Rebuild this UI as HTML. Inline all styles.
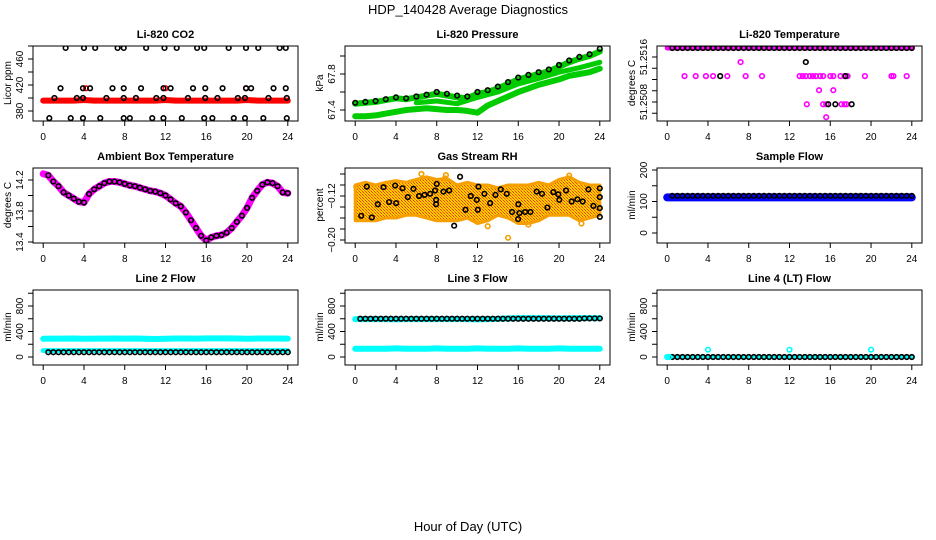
<!DOCTYPE html>
<html><head><meta charset="utf-8">
<style>
html,body{margin:0;padding:0;background:#fff;}
svg{display:block;font-family:"Liberation Sans",sans-serif;}
.ttl{font-size:11px;font-weight:bold;text-anchor:middle;}
.tk{font-size:10px;text-anchor:middle;}
</style></head>
<body>
<svg id="chart" width="936" height="540" viewBox="0 0 936 540">
<rect width="936" height="540" fill="#fff"/>
<text x="468" y="14" font-size="13" text-anchor="middle">HDP_140428  Average Diagnostics</text>
<text x="468" y="531" font-size="13" text-anchor="middle">Hour of Day (UTC)</text>
</svg>
<script>
// ---------- data ----------
const hours = [0,1,2,3,4,5,6,7,8,9,10,11,12,13,14,15,16,17,18,19,20,21,22,23,24];
const halfHours = [0.5,1,1.5,2,2.5,3,3.5,4,4.5,5,5.5,6,6.5,7,7.5,8,8.5,9,9.5,10,10.5,11,11.5,12,12.5,13,13.5,14,14.5,15,15.5,16,16.5,17,17.5,18,18.5,19,19.5,20,20.5,21,21.5,22,22.5,23,23.5,24];
const xTicks = [0,4,8,12,16,20,24];

// CO2
const co2RedVals = [396,396,396,396,397,396,396,396,396,396,396,396,397,396,396,396,396,396,396,396,397,396,396,396,396];
const co2TopX = [2.2,4,5.1,7.3,7.9,10.1,11.9,13.1,15.1,15.8,18.2,19.9,21.1,23.2,23.8];
const co2TopV = [477,477,477,477,477,477,477,477,477,477,477,477,477,477,477];
const co2MidX = [1.7,3.9,4.6,6.8,7.9,9.6,11.8,12.5,14.7,15.9,17.6,19.9,20.4,22.6,23.8];
const co2MidV = [415,415,415,415,415,415,415,415,415,415,415,415,415,415,415];
const co2LowX = [1.1,3.3,3.9,6.2,7.9,9.1,11.1,11.8,14.2,15.9,17.1,19.1,19.8,22.1,23.9];
const co2LowV = [400,400,400,400,400,400,400,400,400,400,400,400,400,400,400];
const co2BotX = [0.6,2.7,3.9,5.6,7.9,8.5,10.7,11.8,13.6,15.8,16.6,18.7,19.8,21.6,23.9];
const co2BotV = [369,369,369,369,369,369,369,369,369,369,369,369,369,369,369];
const co2RedPtX = [4.2,12,19.9];
const co2RedPtV = [415,415,415];

// Pressure
const presBlack = [67.48,67.49,67.5,67.52,67.54,67.53,67.55,67.57,67.6,67.58,67.56,67.55,67.6,67.62,67.66,67.71,67.76,67.79,67.82,67.85,67.9,67.95,67.99,68.02,68.08];
const presGreenHi = [67.47,67.48,67.49,67.51,67.53,67.52,67.54,67.56,67.58,67.56,67.54,67.53,67.58,67.6,67.64,67.69,67.74,67.77,67.8,67.83,67.88,67.93,67.97,68.0,68.05];
const presGreenLo = [67.33,67.33,67.34,67.36,67.38,67.4,67.41,67.42,67.41,67.4,67.4,67.39,67.37,67.45,67.5,67.55,67.6,67.64,67.68,67.71,67.74,67.78,67.8,67.82,67.86];
const presGreenMidX = [6,8,10,12,14,16,18,20,22,24];
const presGreenMid = [67.48,67.5,67.47,67.54,67.6,67.69,67.75,67.82,67.87,67.93];

// Li-820 temperature
const tTopX = hours;
const tTop = [51.25176,51.25176,51.25176,51.25176,51.25176,51.25176,51.25176,51.25176,51.25176,51.25176,51.25176,51.25176,51.25176,51.25176,51.25176,51.25176,51.25176,51.25176,51.25176,51.25176,51.25176,51.25176,51.25176,51.25176,51.25176];
const tMagX = [1.7,2.8,3.8,4.5,5.9,7.7,9.3,13.0,13.3,13.6,14.0,14.3,14.6,15.0,15.3,16.0,16.3,17.0,17.4,17.7,19.4,22.0,22.2,23.5,7.2,14.9,16.3,13.7,15.3,15.6,17.1,17.4,17.6,15.6];
const tMagV = [51.25126,51.25126,51.25126,51.25126,51.25126,51.25126,51.25126,51.25126,51.25126,51.25126,51.25126,51.25126,51.25126,51.25126,51.25126,51.25126,51.25126,51.25126,51.25126,51.25126,51.25126,51.25126,51.25126,51.25126,51.25151,51.25101,51.25101,51.25076,51.25076,51.25076,51.25076,51.25076,51.25076,51.25053];
const tBlkX = [5.2,17.5,13.6,15.8,16.5,18.1];
const tBlkV = [51.25126,51.25126,51.25151,51.25076,51.25076,51.25076];

// Ambient
const ambHalf = [14.28,14.26,14.18,14.12,14.04,14.0,13.96,13.92,13.91,14.02,14.08,14.12,14.16,14.18,14.18,14.17,14.15,14.13,14.12,14.10,14.08,14.06,14.05,14.03,14.0,13.95,13.9,13.86,13.78,13.68,13.58,13.48,13.42,13.46,13.48,13.49,13.52,13.58,13.66,13.74,13.84,13.97,14.06,14.14,14.17,14.16,14.12,14.04,14.03];
const ambX = [0,0.5,1,1.5,2,2.5,3,3.5,4,4.5,5,5.5,6,6.5,7,7.5,8,8.5,9,9.5,10,10.5,11,11.5,12,12.5,13,13.5,14,14.5,15,15.5,16,16.5,17,17.5,18,18.5,19,19.5,20,20.5,21,21.5,22,22.5,23,23.5,24];

// Gas stream RH
const rhUp = [-0.1,-0.095,-0.1,-0.095,-0.092,-0.095,-0.09,-0.085,-0.09,-0.088,-0.1,-0.095,-0.1,-0.1,-0.105,-0.1,-0.1,-0.1,-0.095,-0.1,-0.09,-0.085,-0.095,-0.1,-0.1];
const rhLo = [-0.165,-0.165,-0.165,-0.16,-0.16,-0.155,-0.155,-0.16,-0.165,-0.165,-0.165,-0.16,-0.17,-0.165,-0.155,-0.16,-0.17,-0.17,-0.165,-0.155,-0.155,-0.155,-0.165,-0.16,-0.155];
const rhOutX = [6.5,8.9,8.8,13,15,17,21,22.2,0.1];
const rhOutV = [-0.08,-0.082,-0.088,-0.175,-0.196,-0.172,-0.083,-0.17,-0.103];
const rhX = [0.59,1.14,1.63,2.22,2.78,3.33,3.92,4.02,4.64,5.16,5.72,6.27,6.80,7.35,7.84,7.94,7.94,8.0,8.66,9.22,9.71,10.29,10.82,11.34,11.93,12.03,12.09,12.68,13.24,13.76,14.28,14.87,15.39,16.01,15.98,16.11,16.67,17.19,17.81,18.33,18.86,19.44,19.93,20.03,20.69,21.24,21.80,22.32,22.88,23.37,24,24,24,24];
const rhV = [-0.156,-0.103,-0.159,-0.135,-0.104,-0.131,-0.101,-0.133,-0.106,-0.122,-0.107,-0.120,-0.118,-0.116,-0.110,-0.127,-0.135,-0.098,-0.112,-0.110,-0.174,-0.085,-0.145,-0.120,-0.127,-0.145,-0.103,-0.116,-0.133,-0.118,-0.108,-0.116,-0.149,-0.135,-0.162,-0.151,-0.149,-0.149,-0.112,-0.116,-0.141,-0.113,-0.117,-0.127,-0.110,-0.130,-0.126,-0.130,-0.108,-0.138,-0.106,-0.122,-0.142,-0.158];

// Flows
const sampBlue = [113,113,113,113,113,113,113,113,113,113,113,113,113,113,113,113,113,113,113,113,113,113,113,113,113];
const sampBlack = [118,118,118,118,118,118,118,118,118,118,118,118,118,118,118,118,118,118,118,118,118,118,118,118,118,118,118,118,118,118,118,118,118,118,118,118,118,118,118,118,118,118,118,118,118,118,118,118];
const l2CyanHi = [285,288,288,290,285,288,288,290,288,290,285,282,285,290,290,288,292,292,292,290,285,290,290,290,288];
const l2CyanLo = [100,100,100,100,100,100,100,100,100,100,100,100,100,100,100,100,100,100,100,100,100,100,100,100,100];
const l2Black = [75,75,75,75,75,75,75,75,75,75,75,75,75,75,75,75,75,75,75,75,75,75,75,75,75,75,75,75,75,75,75,75,75,75,75,75,75,75,75,75,75,75,75,75,75,75,75,75];
const l3CyanHi = [595,595,595,595,590,595,595,595,595,595,595,595,590,595,598,605,610,610,610,610,605,610,610,610,610];
const l3CyanLo = [130,130,130,130,135,130,130,130,135,130,130,130,135,130,130,130,135,130,130,130,135,130,130,130,130];
const l3Black = [600,600,600,600,600,600,600,600,600,600,600,600,600,600,600,600,600,600,600,600,600,600,600,600,600,600,600,600,600,600,600,600,600,600,600,600,600,600,600,600,600,600,600,600,605,605,605,605];
const l4Black = [0,0,0,0,0,0,0,0,0,0,0,0,0,0,0,0,0,0,0,0,0,0,0,0,0,0,0,0,0,0,0,0,0,0,0,0,0,0,0,0,0,0,0,0,0,0,0,0];
const l4CyanX = [0,0.2,4,12,20];
const l4CyanV = [0,0,115,115,115];

// ---------- drawing ----------
const svg = document.getElementById('chart');
const NS = 'http://www.w3.org/2000/svg';
function mk(tag, attrs, parent){
  const e = document.createElementNS(NS, tag);
  for (const k in attrs) e.setAttribute(k, attrs[k]);
  (parent||svg).appendChild(e);
  return e;
}
const defs = mk('defs', {});
const pat = mk('pattern', {id:'rhpat', width:'3', height:'3', patternUnits:'userSpaceOnUse'}, defs);
mk('rect', {x:0,y:0,width:3,height:3,fill:'#ffcc00'}, pat);
mk('rect', {x:0,y:0,width:1,height:1,fill:'#f04000'}, pat);
mk('rect', {x:1,y:1,width:1,height:1,fill:'#f08000'}, pat);
mk('rect', {x:2,y:2,width:1,height:1,fill:'#f04000'}, pat);

const colL = [33,345,657];
const W = 265;
function makePanel(col, opt){
  const left = colL[col], top = opt.top, bottom = top + 75;
  const g = mk('g', {});
  
  
  const x = t => left + 10.2 + t * (244.6 / 24);
  const y = v => opt.y0px + (v - opt.y0) * (opt.y1px - opt.y0px) / (opt.y1 - opt.y0);
  const title = mk('text', {x:left + W/2, y: top - 8, class:'ttl'}, g);
  title.textContent = opt.title;
  
  
  const xa = mk('g', {}, g);
  
  
  xTicks.forEach(t => {
    mk('line', {x1:x(t), x2:x(t), y1:bottom, y2:bottom+5, stroke:'#000'}, xa);
    const tx = mk('text', {x:x(t), y:bottom+19, class:'tk'}, xa);
    tx.textContent = t;
  });
  const ya = mk('g', {}, g);
  
  
  opt.ticks.forEach(v => {
    mk('line', {x1:left-5, x2:left, y1:y(v), y2:y(v), stroke:'#000'}, ya);
  });
  opt.labels.forEach(v => {
    const tx = mk('text', {x:0, y:0, class:'tk', transform:`translate(${left-10},${y(v)}) rotate(-90)`}, ya);
    tx.textContent = opt.fmt ? opt.fmt(v) : v;
  });
  const yt = mk('text', {x:0, y:0, class:'tk', transform:`translate(${left-22},${top+37}) rotate(-90)`}, ya);
  yt.textContent = opt.ylab;
  
  
  const clipId = 'clip' + opt.name;
  const cp = mk('clipPath', {id:clipId}, defs);
  mk('rect', {x:left, y:top, width:W, height:75}, cp);
  const plot = mk('g', {'clip-path':`url(#${clipId})`}, g);
  const box = mk('rect', {x:left, y:top, width:W, height:75, fill:'none', stroke:'#000'}, g);
  
  
  return {x, y, plot};
}
function band(p, xs, vs, color, w, name){
  const pts = xs.map((t,i) => p.x(t).toFixed(1) + ',' + p.y(vs[i]).toFixed(1)).join(' ');
  const e = mk('polyline', {points:pts, fill:'none', stroke:color, 'stroke-width':w, 'stroke-linejoin':'round', 'stroke-linecap':'round'}, p.plot);
  
  
}
function points(p, xs, vs, color, name){
  const g = mk('g', {}, p.plot);
  
  
  xs.forEach((t,i) => {
    const c = mk('circle', {cx:p.x(t), cy:p.y(vs[i]), r:2.3, fill:'none', stroke:color, 'stroke-width':1.6}, g);
    
    
  });
}
function area(p, xs, up, lo, name){
  let d = xs.map((t,i)=>(i?'L':'M')+p.x(t).toFixed(1)+','+p.y(up[i]).toFixed(1)).join('');
  for (let i = xs.length-1; i >= 0; i--) d += 'L'+p.x(xs[i]).toFixed(1)+','+p.y(lo[i]).toFixed(1);
  const e = mk('path', {d:d+'Z', fill:'url(#rhpat)', stroke:'#f5a000', 'stroke-width':3, 'stroke-linejoin':'round'}, p.plot);
  
  
}

// Row 1
let p = makePanel(0, {name:'co2-panel', title:'Li-820 CO2', ylab:'Licor ppm', top:46, y0:380, y0px:111, y1:460, y1px:59, ticks:[380,400,420,440,460,480], labels:[380,420,460]});
band(p, hours, co2RedVals, '#ff0000', 6, 'co2-red-series');
points(p, co2RedPtX, co2RedPtV, '#ff0000', 'co2-red-outliers');
points(p, co2TopX, co2TopV, '#000', 'co2-black-top');
points(p, co2MidX, co2MidV, '#000', 'co2-black-mid');
points(p, co2LowX, co2LowV, '#000', 'co2-black-low');
points(p, co2BotX, co2BotV, '#000', 'co2-black-bottom');

p = makePanel(1, {name:'pressure-panel', title:'Li-820 Pressure', ylab:'kPa', top:46, y0:67.4, y0px:110, y1:67.8, y1px:74, ticks:[67.4,67.6,67.8,68.0], labels:[67.4,67.8], fmt:v=>v.toFixed(1)});
band(p, hours, presGreenLo, '#00cc00', 6, 'pressure-green-low');
band(p, presGreenMidX, presGreenMid, '#00cc00', 5, 'pressure-green-mid');
band(p, hours, presGreenHi, '#00cc00', 6, 'pressure-green-high');
points(p, hours, presBlack, '#000', 'pressure-black');

p = makePanel(2, {name:'temperature-panel', title:'Li-820 Temperature', ylab:'degrees C', top:46, y0:51.2516, y0px:57, y1:51.2508, y1px:102, ticks:[51.2506,51.2508,51.251,51.2512,51.2514,51.2516], labels:[51.2508,51.2516], fmt:v=>v.toFixed(4)});
band(p, tTopX, tTop, '#ff00ff', 5, 'temperature-magenta-top');
points(p, tMagX, tMagV, '#ff00ff', 'temperature-magenta');
points(p, halfHours, tTop.concat(tTop).slice(0,48), '#000', 'temperature-black-top');
points(p, tBlkX, tBlkV, '#000', 'temperature-black');

// Row 2
p = makePanel(0, {name:'ambient-panel', title:'Ambient Box Temperature', ylab:'degrees C', top:168, y0:13.4, y0px:242, y1:14.2, y1px:180, ticks:[13.4,13.6,13.8,14.0,14.2], labels:[13.4,13.8,14.2], fmt:v=>v.toFixed(1)});
band(p, ambX, ambHalf, '#ff00ff', 7, 'ambient-magenta');
points(p, ambX.slice(1), ambHalf.slice(1), '#000', 'ambient-black');

p = makePanel(1, {name:'rh-panel', title:'Gas Stream RH', ylab:'percent', top:168, y0:-0.20, y0px:240, y1:-0.08, y1px:174, ticks:[-0.2,-0.18,-0.16,-0.14,-0.12,-0.1,-0.08], labels:[-0.2,-0.12], fmt:v=>'\u2212'+Math.abs(v).toFixed(2)});
area(p, hours, rhUp, rhLo, 'rh-orange-cloud');
points(p, rhOutX, rhOutV, '#f5a000', 'rh-orange-outliers');
points(p, rhX, rhV, '#000', 'rh-black');

p = makePanel(2, {name:'sample-flow-panel', title:'Sample Flow', ylab:'ml/min', top:168, y0:0, y0px:233, y1:200, y1px:170, ticks:[0,50,100,150,200], labels:[0,100,200]});
band(p, hours, sampBlue, '#0000ff', 8, 'sample-flow-blue');
points(p, halfHours, sampBlack, '#000', 'sample-flow-black');

// Row 3
const flowOpt = {ylab:'ml/min', top:290, y0:0, y0px:357, y1:800, y1px:306, ticks:[0,200,400,600,800,1000], labels:[0,400,800]};
p = makePanel(0, Object.assign({name:'line2-panel', title:'Line 2 Flow'}, flowOpt));
band(p, hours, l2CyanHi, '#00ffff', 6, 'line2-cyan-high');
band(p, hours, l2CyanLo, '#00ffff', 5, 'line2-cyan-low');
points(p, halfHours, l2Black, '#000', 'line2-black');

p = makePanel(1, Object.assign({name:'line3-panel', title:'Line 3 Flow'}, flowOpt));
band(p, hours, l3CyanHi, '#00ffff', 6, 'line3-cyan-high');
band(p, hours, l3CyanLo, '#00ffff', 6, 'line3-cyan-low');
points(p, halfHours, l3Black, '#000', 'line3-black');

p = makePanel(2, Object.assign({name:'line4-panel', title:'Line 4 (LT) Flow'}, flowOpt));
band(p, hours, l4Black.slice(0,25), '#00ffff', 3, 'line4-cyan-base');
points(p, halfHours, l4Black, '#000', 'line4-black');
points(p, l4CyanX, l4CyanV, '#00ffff', 'line4-cyan');
</script>
</body></html>
